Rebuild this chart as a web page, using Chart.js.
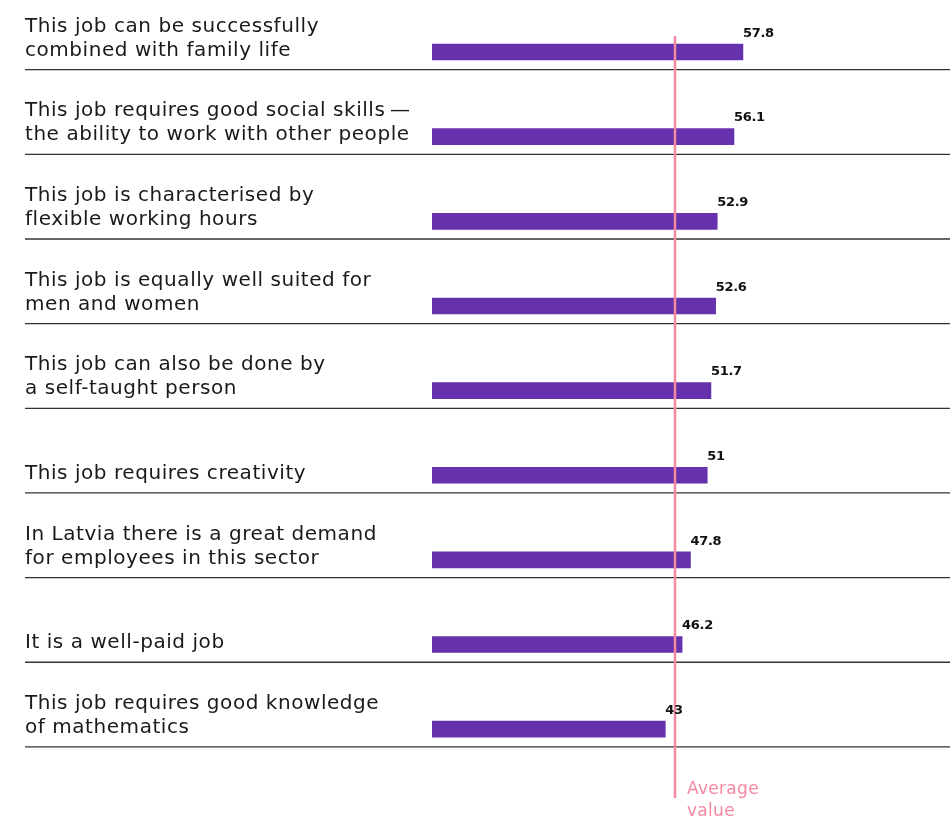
<!DOCTYPE html>
<html>
<head>
<meta charset="utf-8">
<script src="https://cdn.jsdelivr.net/npm/chart.js@4.4.0/dist/chart.umd.min.js"></script>
<style>
  body { margin: 0; background: #fff; }
  #wrap { width: 950px; height: 821px; }
</style>
</head>
<body>
<div id="wrap"><canvas id="chart" width="950" height="821"></canvas></div>
<script>
// Datos
const categories = [
    ['This job can be successfully', 'combined with family life'],
    ['This job requires good social skills\u2009\u2014', 'the ability to work with other people'],
    ['This job is characterised by', 'flexible working hours'],
    ['This job is equally well suited for', 'men and women'],
    ['This job can also be done by', 'a self-taught person'],
    ['This job requires creativity'],
    ['In Latvia there is a great demand', 'for employees in this sector'],
    ['It is a well-paid job'],
    ['This job requires good knowledge', 'of mathematics']
];
const values = [57.8, 56.1, 52.9, 52.6, 51.7, 51, 47.8, 46.2, 43];
const averageValue = 44.8;
const averageLabel = ['Average', 'value'];

const purple = '#6631ad';
const pink = '#f4899f';

// Etiquetas, separadores y línea de promedio
const rowsPlugin = {
    id: 'rows',
    beforeDatasetsDraw(chart) {
        const { ctx, scales: { y } } = chart;
        ctx.save();
        ctx.strokeStyle = '#333';
        ctx.lineWidth = 1.3;
        ctx.fillStyle = '#1a1a1a';
        ctx.font = '20px "DejaVu Sans"';
        ctx.letterSpacing = '0.55px';
        ctx.textAlign = 'left';
        ctx.textBaseline = 'alphabetic';
        categories.forEach((lines, i) => {
            const sep = y.getPixelForValue(i) + 17.7;
            ctx.beginPath();
            ctx.moveTo(25, sep);
            ctx.lineTo(950, sep);
            ctx.stroke();
            lines.forEach((line, j) => {
                const base = sep - 14 - (lines.length - 1 - j) * 24;
                ctx.fillText(line, 25, base);
            });
        });
        ctx.restore();
    },
    afterDatasetsDraw(chart) {
        const { ctx, scales: { x } } = chart;
        ctx.save();
        // línea de promedio
        const ax = Math.round(x.getPixelForValue(averageValue));
        ctx.strokeStyle = pink;
        ctx.lineWidth = 2.5;
        ctx.beginPath();
        ctx.moveTo(ax, 36);
        ctx.lineTo(ax, 798);
        ctx.stroke();
        ctx.fillStyle = pink;
        ctx.font = '17px "DejaVu Sans"';
        ctx.letterSpacing = '0.3px';
        ctx.textAlign = 'left';
        ctx.fillText(averageLabel[0], ax + 12, 794);
        ctx.fillText(averageLabel[1], ax + 12, 816);
        // valores
        ctx.fillStyle = '#111';
        ctx.font = 'bold 13px "DejaVu Sans"';
        ctx.letterSpacing = '-0.3px';
        ctx.textBaseline = 'alphabetic';
        chart.getDatasetMeta(0).data.forEach((bar, i) => {
            ctx.fillText(String(values[i]), bar.x, bar.y - 15.3);
        });
        ctx.restore();
    }
};

const ctx = document.getElementById('chart').getContext('2d');

const options = {
    type: 'bar',
    data: {
        labels: categories,
        datasets: [{
            data: values,
            base: -1.5,
            backgroundColor: purple,
            borderWidth: 0,
            barThickness: 16
        }]
    },
    options: {
        indexAxis: 'y',
        responsive: false,
        animation: false,
        layout: {
            padding: { left: 432, right: 0, top: 9.7, bottom: 49.5 }
        },
        plugins: {
            legend: { display: false },
            tooltip: { enabled: false }
        },
        scales: {
            x: { display: false, min: -1.5, max: 97.3 },
            y: { display: false }
        }
    },
    plugins: [rowsPlugin]
};

const myChart = new Chart(ctx, options);
</script>
</body>
</html>
